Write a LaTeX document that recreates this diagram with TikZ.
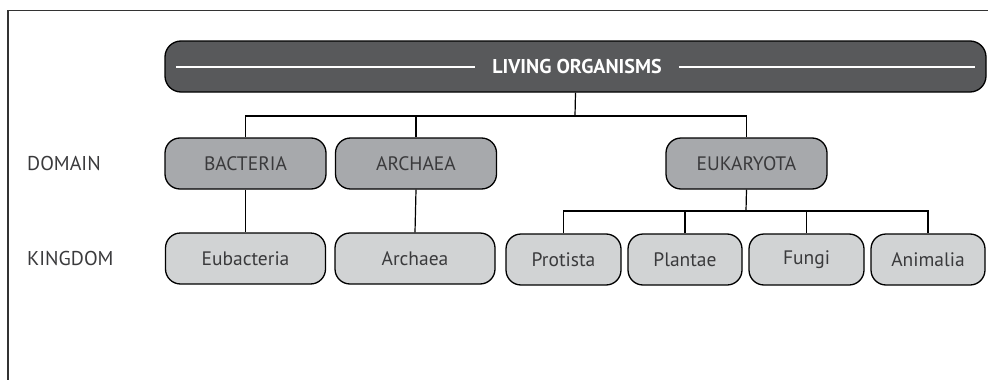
\documentclass[tikz,border=0pt]{standalone}
\usepackage{fontspec}
\setmainfont{PT Sans}
\usetikzlibrary{calc}
\definecolor{barfill}{HTML}{58595B}
\definecolor{domfill}{HTML}{A7A9AC}
\definecolor{kingfill}{HTML}{D1D3D4}
\definecolor{inkgray}{HTML}{3A3A3C}
\begin{document}
\begin{tikzpicture}[x=1pt,y=-1pt,
  box/.style={draw=black,line width=1.3pt,rounded corners=15pt,minimum height=51pt,
    inner sep=0pt,text=inkgray,font=\fontsize{19.5}{22}\selectfont},
  dombox/.style={box,fill=domfill,minimum width=161pt},
  kingbox/.style={box,fill=kingfill},
  rowlabel/.style={anchor=west,text=inkgray,inner sep=0pt,font=\fontsize{20}{22}\selectfont},
  link/.style={draw=black,line width=1.2pt}]
\useasboundingbox (0,0) rectangle (988,380);
% open frame: left and top edges only
\draw[line width=1.1pt,black!80] (8,380) -- (8,10.5) -- (988,10.5);
% title bar
\node[box,fill=barfill,minimum width=821pt,minimum height=51pt,rounded corners=16pt] (top) at (575.5,66.5) {};
\node[text=white,inner sep=0pt,font=\fontsize{20}{22}\selectfont\bfseries] (title) at (577,66.5) {LIVING ORGANISMS};
\draw[white,line width=2pt] ($(top.west)+(12,0)$) -- ($(title.west)+(-17,0)$);
\draw[white,line width=2pt] ($(title.east)+(17,0)$) -- ($(top.east)+(-12,0)$);
% row labels
\node[rowlabel] (domlab) at (27,163.5) {DOMAIN};
\node[rowlabel] (kinglab) at (27,258.5) {KINGDOM};
% domains
\node[dombox] (bact) at (245.5,163.5) {BACTERIA};
\node[dombox] (arch) at (416,163.5) {ARCHAEA};
\node[dombox] (euk) at (746.5,163.5) {EUKARYOTA};
% kingdoms
\node[kingbox,minimum width=160pt] (eub) at (245.5,258.5) {Eubacteria};
\node[kingbox,minimum width=160pt] (archk) at (415,258.5) {Archaea};
\node[kingbox,minimum width=115pt] (prot) at (563.5,259.5) {Protista};
\node[kingbox,minimum width=114pt] (plant) at (685,259.5) {Plantae};
\node[kingbox,minimum width=115pt] (fungi) at (806.5,259.5) {Fungi};
\node[kingbox,minimum width=114pt] (anim) at (928,259.5) {Animalia};
% connectors
\coordinate (j) at (575,116);
\coordinate (k) at (746,211);
\draw[link] (top.south) -- (j);
\draw[link] (bact.north) |- (j) -| (euk.north);
\draw[link] (arch.north) -- (arch.north |- j);
\draw[link] (bact.south) -- (eub.north);
\draw[link] (arch.south) -- (archk.north);
\draw[link] (euk.south) -- (k);
\draw[link] (prot.north) |- (k) -| (anim.north);
\draw[link] (plant.north) -- (plant.north |- k);
\draw[link] (fungi.north) -- (fungi.north |- k);
\end{tikzpicture}
\end{document}
